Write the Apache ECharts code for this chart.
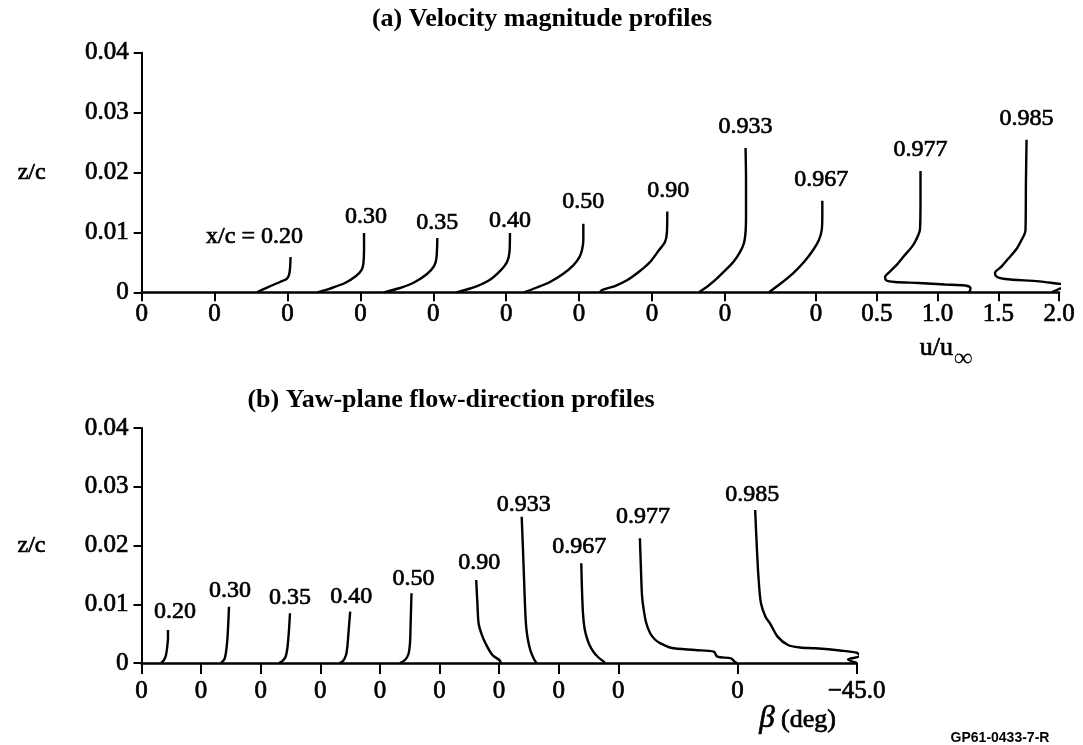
<!DOCTYPE html>
<html><head><meta charset="utf-8">
<script src="https://cdn.jsdelivr.net/npm/echarts@6/dist/echarts.min.js"></script>
<style>html,body{margin:0;padding:0;background:#fff}#c{width:1083px;height:745px}</style>
</head><body><div id="c"></div>
<script>
// ---------- DATA ----------
// (a) velocity panel: horizontal plotting coordinate in u/u_inf units from the z/c axis
const velTickValues = [0, 0.6, 1.2, 1.8, 2.4, 3.0, 3.6, 4.2, 4.8, 5.55, 6.05, 6.55, 7.05, 7.55];
const velTickLabels = ['0','0','0','0','0','0','0','0','0','0','0.5','1.0','1.5','2.0'];
// (b) yaw panel: horizontal plotting coordinate in degrees of beta from the z/c axis
const yawTickValues = [0, 22.5, 45, 67.5, 90, 112.5, 135, 157.5, 180, 225, 270];
const yawTickLabels = ['0','0','0','0','0','0','0','0','0','0','\u221245.0'];
const zTickValues = [0, 0.01, 0.02, 0.03, 0.04];

const stationNames = ['0.20','0.30','0.35','0.40','0.50','0.90','0.933','0.967','0.977','0.985'];
const velLabelTexts = ['x/c = 0.20','0.30','0.35','0.40','0.50','0.90','0.933','0.967','0.977','0.985'];

// velocity magnitude profiles [plot x, z/c]
const vel020 = [[0.947,0],[1.040,0.00088],[1.138,0.00172],[1.192,0.00222],[1.212,0.00288],[1.221,0.00405],[1.225,0.00588]];
const vel030 = [[1.447,0],[1.550,0.00063],[1.673,0.00155],[1.764,0.00272],[1.809,0.00372],[1.824,0.00472],[1.830,0.00705],[1.830,0.00988]];
const vel035 = [[1.994,0],[2.126,0.00072],[2.249,0.00172],[2.348,0.00305],[2.406,0.00438],[2.426,0.00572],[2.433,0.00905]];
const vel040 = [[2.591,0],[2.719,0.00072],[2.850,0.00188],[2.949,0.00355],[3.007,0.00505],[3.027,0.00672],[3.031,0.00988]];
const vel050 = [[3.147,0],[3.253,0.0008],[3.360,0.00172],[3.467,0.00305],[3.552,0.0045],[3.603,0.00588],[3.624,0.00705],[3.635,0.00872],[3.635,0.01143]];
const vel090 = [[3.772,0],[3.788,0.00038],[3.895,0.00105],[3.994,0.002],[4.101,0.00355],[4.184,0.00505],[4.258,0.00705],[4.307,0.00838],[4.323,0.01005],[4.326,0.0135]];
const vel0933 = [[4.587,0],[4.661,0.00105],[4.733,0.00227],[4.801,0.00363],[4.869,0.00505],[4.924,0.00672],[4.957,0.00822],[4.970,0.01005],[4.974,0.01288],[4.974,0.01872],[4.970,0.02408]];
const vel0967 = [[5.163,0],[5.254,0.00138],[5.363,0.00322],[5.451,0.00505],[5.528,0.0071],[5.574,0.00872],[5.597,0.01038],[5.602,0.01288],[5.602,0.01528]];
const vel0977 = [[6.801,0],[6.817,0.00022],[6.821,0.00072],[6.776,0.00113],[6.612,0.0013],[6.396,0.00155],[6.200,0.00172],[6.130,0.00197],[6.118,0.00255],[6.159,0.00347],[6.225,0.00483],[6.274,0.00605],[6.339,0.00758],[6.373,0.00872],[6.406,0.01055],[6.410,0.01538],[6.410,0.02023]];
const vel0985 = [[7.492,0],[7.541,0.00047],[7.632,0.00122],[7.529,0.00147],[7.388,0.00182],[7.105,0.00222],[7.040,0.00255],[7.023,0.00322],[7.076,0.00428],[7.130,0.00555],[7.203,0.00732],[7.237,0.00855],[7.274,0.01033],[7.278,0.01872],[7.283,0.02547]];

// yaw-plane flow-direction profiles [plot x, z/c]
const yaw020 = [[10.0,0.00562],[10.0,0.00426],[9.74,0.00289],[9.25,0.00136],[8.49,0.00051],[7.36,0]];
const yaw030 = [[33.03,0.00958],[32.73,0.00647],[32.39,0.00391],[31.90,0.00187],[31.33,0.00068],[30.01,0]];
const yaw035 = [[56.06,0.00846],[55.68,0.00562],[55.12,0.00272],[54.36,0.00102],[53.04,0.00026],[51.9,0]];
const yaw040 = [[78.78,0.00873],[78.22,0.00562],[77.77,0.00306],[77.2,0.00136],[76.07,0.00034],[74.75,0]];
const yaw050 = [[101.93,0.01186],[101.59,0.00647],[101.36,0.0034],[100.79,0.00153],[99.47,0.00051],[97.58,0]];
const yaw090 = [[126.35,0.01413],[126.84,0.00987],[127.26,0.00676],[128.35,0.00494],[129.86,0.00335],[132.46,0.00136],[135.07,0.00051],[135.71,0]];
const yaw0933 = [[143.53,0.0249],[144.02,0.01923],[144.43,0.01413],[144.77,0.00987],[145.22,0.00618],[145.9,0.00391],[146.77,0.00221],[147.79,0.00102],[148.74,0.00022],[149.3,0]];
const yaw0967 = [[166.02,0.01697],[166.29,0.01243],[166.67,0.00846],[167.23,0.00596],[167.99,0.00448],[169.12,0.00306],[170.59,0.00192],[172.33,0.00102],[174.48,0.00022],[174.97,0]];
const yaw0977 = [[188.15,0.02123],[188.56,0.01583],[188.94,0.01157],[189.43,0.00958],[190.45,0.00698],[192.03,0.00506],[193.85,0.004],[195.92,0.00335],[199.85,0.0026],[208.95,0.00221],[216.08,0.00192],[217.36,0.00107],[222.57,0.0008],[223.9,0.00022],[224.8,0]];
const yaw0985 = [[231.67,0.02604],[232.35,0.01923],[232.99,0.01413],[233.86,0.01016],[235.56,0.00788],[237.26,0.00676],[240.13,0.00449],[244.05,0.00306],[248.58,0.00264],[254.44,0.0025],[263.68,0.00213],[270.03,0.00175],[271.23,0.00119],[266.7,0.0006],[270.1,0]];

// ---------- STYLE / LAYOUT ----------
const velProfiles = [vel020, vel030, vel035, vel040, vel050, vel090, vel0933, vel0967, vel0977, vel0985];
const yawProfiles = [yaw020, yaw030, yaw035, yaw040, yaw050, yaw090, yaw0933, yaw0967, yaw0977, yaw0985];
const velLabelOffsets = [[-36,-20],[2,-16],[0,-15],[0,-12],[0,-22],[1,-21],[0,-21],[-1,-21],[0,-21],[0,-21]];
const yawLabelOffsets = [[7,-18],[1,-16],[0,-16],[1,-15],[2,-15],[3,-17],[2,-12],[-2,-17],[3,-22],[-3,-15]];

const FONT = "'Liberation Serif','Times New Roman',serif";
const INK = '#000000';
const HEAVY = { textBorderColor: INK, textBorderWidth: 0.7 };

function tickFormatter(values, labels) {
  return function (v) {
    let best = 0, d = Infinity;
    values.forEach(function (t, i) { const dd = Math.abs(t - v); if (dd < d) { d = dd; best = i; } });
    return labels[best];
  };
}
function topPoint(arr) {
  let p = arr[0];
  arr.forEach(function (q) { if (q[1] > p[1]) p = q; });
  return p;
}
function xAxisCfg(grid, max, vals, labels, tickLen, margin) {
  return {
    gridIndex: grid, type: 'value', min: 0, max: max,
    axisLine: { show: true, onZero: false, lineStyle: { color: INK, width: 2.6 } },
    axisTick: { show: true, customValues: vals, length: tickLen, lineStyle: { color: INK, width: 2 } },
    axisLabel: Object.assign({ show: true, customValues: vals, formatter: tickFormatter(vals, labels), margin: margin,
      fontFamily: FONT, fontSize: 25, color: INK, hideOverlap: false }, HEAVY),
    splitLine: { show: false }
  };
}
function yAxisCfg(grid) {
  return {
    gridIndex: grid, type: 'value', min: 0, max: 0.04, interval: 0.01,
    axisLine: { show: true, onZero: false, lineStyle: { color: INK, width: 2 } },
    axisTick: { show: true, length: 8, lineStyle: { color: INK, width: 2 } },
    axisLabel: Object.assign({ margin: 13, fontFamily: FONT, fontSize: 25, color: INK,
      formatter: function (v) { return v === 0 ? '0' : v.toFixed(2); } }, HEAVY),
    splitLine: { show: false },
    name: 'z/c', nameLocation: 'middle', nameRotate: 0, nameGap: 110,
    nameTextStyle: Object.assign({ fontFamily: FONT, fontSize: 24, color: INK, align: 'center', verticalAlign: 'middle' }, HEAVY)
  };
}
function labelStyle(text, offset) {
  return Object.assign({ show: true, formatter: text, position: 'inside', offset: offset,
    align: 'center', verticalAlign: 'middle', opacity: 1,
    fontFamily: FONT, fontSize: 24, color: INK }, HEAVY);
}

const series = [];
velProfiles.forEach(function (d, i) {
  series.push({ name: 'vel ' + stationNames[i], type: 'line', xAxisIndex: 0, yAxisIndex: 0, data: d,
    showSymbol: false, symbol: 'none', smooth: 0.3, clip: false, silent: true,
    lineStyle: { color: INK, width: 2.4 } });
});
yawProfiles.forEach(function (d, i) {
  series.push({ name: 'yaw ' + stationNames[i], type: 'line', xAxisIndex: 1, yAxisIndex: 1, data: d,
    showSymbol: false, symbol: 'none', smooth: 0.3, clip: false, silent: true,
    lineStyle: { color: INK, width: 2.4 } });
});
series.push({ type: 'scatter', xAxisIndex: 0, yAxisIndex: 0, symbolSize: 0, silent: true, clip: false,
  itemStyle: { opacity: 1, color: INK },
  data: velProfiles.map(function (d, i) {
    return { value: topPoint(d), label: labelStyle(velLabelTexts[i], velLabelOffsets[i]) };
  }) });
series.push({ type: 'scatter', xAxisIndex: 1, yAxisIndex: 1, symbolSize: 0, silent: true, clip: false,
  itemStyle: { opacity: 1, color: INK },
  data: yawProfiles.map(function (d, i) {
    return { value: topPoint(d), label: labelStyle(stationNames[i], yawLabelOffsets[i]) };
  }) });

const chart = echarts.init(document.getElementById('c'), null, { renderer: 'canvas' });
chart.setOption({
  backgroundColor: '#ffffff',
  animation: false,
  title: [
    { text: '(a) Velocity magnitude profiles', left: 537, top: 1, textAlign: 'center',
      textStyle: { fontFamily: FONT, fontWeight: 'bold', fontSize: 26, color: INK } },
    { text: '(b) Yaw-plane flow-direction profiles', left: 446, top: 382, textAlign: 'center',
      textStyle: { fontFamily: FONT, fontWeight: 'bold', fontSize: 26, color: INK } }
  ],
  grid: [
    { left: 141.7, top: 52.7, width: 917.3, height: 239.6, outerBoundsMode: 'none', containLabel: false },
    { left: 141.5, top: 428, width: 715.2, height: 235, outerBoundsMode: 'none', containLabel: false }
  ],
  xAxis: [
    xAxisCfg(0, 7.55, velTickValues, velTickLabels, 9, 10),
    xAxisCfg(1, 270, yawTickValues, yawTickLabels, 11, 16)
  ],
  yAxis: [yAxisCfg(0), yAxisCfg(1)],
  graphic: [
    { type: 'text', x: 953, y: 348, silent: true,
      style: { text: 'u/u', fontFamily: FONT, fontSize: 26, fill: INK, stroke: INK, lineWidth: 0.7, align: 'right', verticalAlign: 'middle' } },
    { type: 'text', x: 954, y: 359, silent: true,
      style: { text: '\u221E', fontFamily: FONT, fontSize: 26, fontWeight: 'bold', fill: INK, align: 'left', verticalAlign: 'middle' } },
    { type: 'text', x: 767, y: 719, silent: true,
      style: { text: '\u03B2', fontFamily: FONT, fontStyle: 'italic', fontSize: 31, fill: INK, stroke: INK, lineWidth: 0.7, align: 'center', verticalAlign: 'middle' } },
    { type: 'text', x: 781, y: 720, silent: true,
      style: { text: '(deg)', fontFamily: FONT, fontSize: 26, fill: INK, stroke: INK, lineWidth: 0.7, align: 'left', verticalAlign: 'middle' } },
    { type: 'text', x: 1000, y: 738, silent: true,
      style: { text: 'GP61-0433-7-R', fontFamily: "'Liberation Sans Narrow','Liberation Sans',sans-serif", fontWeight: 'bold', fontSize: 14, fill: INK, align: 'center', verticalAlign: 'middle' } }
  ],
  series: series
});
</script>
</body></html>
